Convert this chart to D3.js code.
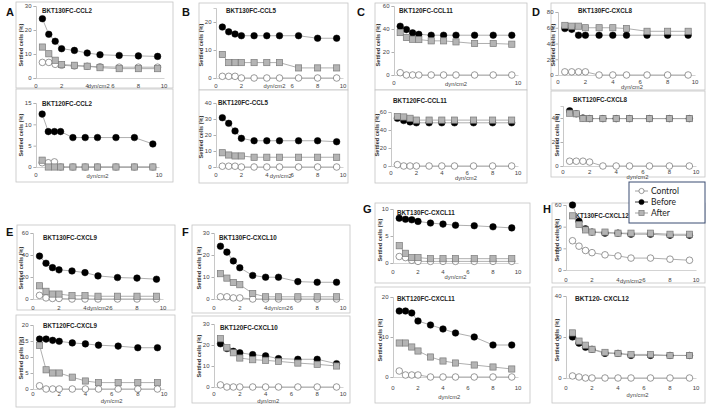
<!DOCTYPE html>
<html><head><meta charset="utf-8">
<script src="https://cdn.jsdelivr.net/npm/d3@7"></script>
<style>body{margin:0;background:#fff}svg{display:block}</style>
</head><body>
<svg id="c" width="708" height="408"></svg>
<script>
// ---------- DATA ----------
const shear = [0.5, 1, 1.5, 2, 3, 4, 5, 6.5, 8, 9.5];
const seriesNames = ["Control", "Before", "After"];
const xTicksFull = [0, 2, 4, 6, 8, 10];
const xTicksEnds = [0, 10];
const xTicksNo4 = [0, 2, 6, 8, 10];
const xTitle = "dyn/cm2";
const yTitle = "Settled cells (%)";
const panelLetters = ["A", "B", "C", "D", "E", "F", "G", "H"];

const titles = ["BKT130FC-CCL2", "BKT120FC-CCL2", "BKT130FC-CCL5", "BKT120FC-CCL5",
  "BKT120FC-CCL11", "BKT120FC-CCL11", "BKT130FC-CXCL8", "BKT120FC-CXCL8",
  "BKT130FC-CXCL9", "BKT120FC-CXCL9", "BKT130FC-CXCL10", "BKT120FC-CXCL10",
  "BKT130FC-CXCL11", "BKT120FC-CXCL11", "BKT130FC-CXCL12", "BKT120- CXCL12"];

// A
const ccl2_130_control = [6.5, 6.5, 5.7, 5.3, 5.0, 4.9, 4.7, 4.5, 4.5, 4.5];
const ccl2_130_before  = [24.7, 18.2, 15.3, 12.2, 11.5, 10.4, 9.7, 9.4, 9.2, 9.0];
const ccl2_130_after   = [12.9, 10.1, 7.4, 5.6, 5.3, 4.9, 4.3, 3.9, 3.9, 3.9];
const ccl2_120_control = [1.0, 1.0, 1.2, 0, 0, 0, 0, 0, 0, 0];
const ccl2_120_before  = [12.4, 8.3, 8.3, 8.3, 6.9, 6.9, 6.9, 6.9, 6.9, 5.4];
const ccl2_120_after   = [1.6, 0, 0, 0, 0, 0, 0, 0, 0, 0];
// B
const ccl5_130_control = [0.6, 0.6, 0.6, 0, 0, 0, 0, 0, 0, 0];
const ccl5_130_before  = [18.2, 16.5, 15.7, 15.1, 15.1, 15.1, 15.1, 15.1, 14.2, 14.2];
const ccl5_130_after   = [8.4, 5.5, 5.5, 5.5, 5.5, 5.5, 5.5, 3.6, 3.6, 3.6];
const ccl5_120_control = [0.5, 0.5, 0.5, 0, 0, 0, 0, 0, 0, 0];
const ccl5_120_before  = [30.8, 27.3, 22.5, 17.9, 16.4, 16.4, 16.4, 16.4, 16.4, 15.8];
const ccl5_120_after   = [8.9, 7.5, 6.9, 6.9, 6.1, 6.1, 6.1, 6.1, 6.1, 6.1];
// C
const ccl11_a_control = [2, 0, 0, 0, 0, 0, 0, 0, 0, 0];
const ccl11_a_before  = [42.4, 39.5, 36.6, 35.4, 34.6, 34.6, 34.6, 34.6, 34.6, 34.6];
const ccl11_a_after   = [36.9, 32.6, 31.1, 30.8, 29.7, 29.7, 28.8, 27.4, 27.4, 26.8];
const ccl11_b_control = [1.5, 0, 0, 0, 0, 0, 0, 0, 0, 0];
const ccl11_b_before  = [53, 50.5, 49, 48, 48, 48, 48, 48, 48, 48];
const ccl11_b_after   = [55, 54.5, 53, 51, 51, 51, 51, 51, 51, 51];
// D
const cxcl8_130_control = [4, 4, 4, 4, 0, 0, 0, 0, 0, 0];
const cxcl8_130_before  = [59, 58, 50.5, 50.5, 50.5, 50.5, 50.5, 50.5, 50.5, 50.5];
const cxcl8_130_after   = [63, 62, 62, 60, 60, 60, 59, 55.5, 55.5, 55.5];
const cxcl8_120_control = [4, 4, 4, 3.3, 0, 0, 0, 0, 0, 0];
const cxcl8_120_before  = [46, 43.5, 40, 39.5, 39.5, 39.5, 39.5, 39.5, 39.5, 39.5];
const cxcl8_120_after   = [44, 43.5, 39.5, 39.5, 39.5, 39.5, 39.5, 39.5, 39.5, 39.5];
// E
const cxcl9_130_control = [3.3, 1, 0.5, 0.5, 0, 0, 0, 0, 0, 0];
const cxcl9_130_before  = [39, 32.5, 28.5, 26.5, 25.5, 24, 21, 19.5, 19, 18];
const cxcl9_130_after   = [12, 7, 4.5, 4.5, 3, 3, 2.5, 2.5, 2.5, 2.5];
const cxcl9_120_control = [1, 0, 0, 0, 0, 0, 0, 0, 0, 0];
const cxcl9_120_before  = [15.6, 15.6, 15.2, 14.9, 14.4, 14.1, 13.7, 13.4, 12.9, 12.9];
const cxcl9_120_after   = [13.6, 6, 5, 5, 3.7, 2.5, 2, 2, 2, 2];
// F
const cxcl10_130_control = [1, 1, 0.5, 0.5, 0, 0, 0, 0, 0, 0];
const cxcl10_130_before  = [24, 21.3, 17.3, 14.2, 10.7, 9.9, 9.9, 7.9, 7.6, 7.6];
const cxcl10_130_after   = [11.5, 9.5, 7.5, 6.5, 2.5, 1, 1, 1, 1, 1];
const cxcl10_120_control = [1, 0, 0, 0, 0, 0, 0, 0, 0, 0];
const cxcl10_120_before  = [20.6, 18.3, 17, 16.3, 15.4, 14.8, 13.5, 13.2, 13.2, 11.1];
const cxcl10_120_after   = [23, 18.7, 16.3, 13.8, 13, 12.7, 12.2, 11.4, 10.8, 10];
// G
const cxcl11_130_control = [1.2, 1, 0.5, 0.3, 0.3, 0.3, 0.3, 0.3, 0.3, 0.3];
const cxcl11_130_before  = [8.3, 8.1, 8.0, 7.7, 7.4, 7.2, 7.0, 6.9, 6.7, 6.5];
const cxcl11_130_after   = [3.2, 1.8, 1, 1, 0.8, 0.8, 0.8, 0.8, 0.8, 0.8];
const cxcl11_120_control = [1.5, 0.5, 0.5, 0.5, 0, 0, 0, 0, 0, 0];
const cxcl11_120_before  = [16.5, 16.5, 16, 14, 13, 12, 11, 10, 8, 8];
const cxcl11_120_after   = [8.5, 8.5, 7.5, 6.5, 5, 4, 3.5, 3, 2.5, 2];
// H
const cxcl12_130_control = [27, 22, 18, 16, 14, 13, 11, 11, 10, 9];
const cxcl12_130_before  = [60, 45, 38, 35, 34, 34, 33, 33, 32, 32];
const cxcl12_130_after   = [50, 42, 37, 35, 35, 34, 34, 34, 33, 33];
const cxcl12_120_control = [1, 0.5, 0, 0, 0, 0, 0, 0, 0, 0];
const cxcl12_120_before  = [20, 17, 15, 14, 12, 12, 11, 11, 11, 11];
const cxcl12_120_after   = [22, 18, 16, 14, 12.5, 12, 11.5, 11.5, 11, 11];

const panelSeries = [
  [ccl2_130_control, ccl2_130_before, ccl2_130_after],
  [ccl2_120_control, ccl2_120_before, ccl2_120_after],
  [ccl5_130_control, ccl5_130_before, ccl5_130_after],
  [ccl5_120_control, ccl5_120_before, ccl5_120_after],
  [ccl11_a_control, ccl11_a_before, ccl11_a_after],
  [ccl11_b_control, ccl11_b_before, ccl11_b_after],
  [cxcl8_130_control, cxcl8_130_before, cxcl8_130_after],
  [cxcl8_120_control, cxcl8_120_before, cxcl8_120_after],
  [cxcl9_130_control, cxcl9_130_before, cxcl9_130_after],
  [cxcl9_120_control, cxcl9_120_before, cxcl9_120_after],
  [cxcl10_130_control, cxcl10_130_before, cxcl10_130_after],
  [cxcl10_120_control, cxcl10_120_before, cxcl10_120_after],
  [cxcl11_130_control, cxcl11_130_before, cxcl11_130_after],
  [cxcl11_120_control, cxcl11_120_before, cxcl11_120_after],
  [cxcl12_130_control, cxcl12_130_before, cxcl12_130_after],
  [cxcl12_120_control, cxcl12_120_before, cxcl12_120_after]
];
const yMaxes = [30, 15, 25, 40, 60, 60, 80, 50, 60, 20, 30, 30, 10, 20, 60, 40];
const yTickSets = [[0,10,20,30],[0,5,10,15],[0,10,20],[0,10,20,30,40],[0,20,40,60],[0,20,40,60],
  [0,20,40,60,80],[0,20,40],[0,20,40,60],[0,5,10,15,20],[0,10,20,30],[0,10,20,30],
  [0,5,10],[0,10,20],[0,20,40,60],[0,20,40]];
const xTickSets = [xTicksFull, xTicksEnds, xTicksNo4, xTicksFull, xTicksEnds, xTicksFull, xTicksFull, xTicksFull,
  xTicksFull, xTicksFull, xTicksFull, xTicksFull, xTicksFull, xTicksFull, xTicksFull, xTicksFull];

// ---------- LAYOUT (pixel geometry) ----------
const layout = [
  {frame:[16,2,173,88],  xr:[36,164],  yr:[78,6],    xl:86,  dyn:[4.9,86],  t:[42,10],  yt:[21,45]},
  {frame:[16,89,173,182],xr:[36,159],  yr:[167,103], xl:175, dyn:[5,176],   t:[42,103], yt:[21,135]},
  {frame:[199,3,348,90], xr:[216,343], yr:[78,8],    xl:86,  dyn:[4.6,86],  t:[226,10], yt:[201,45]},
  {frame:[199,90,348,183],xr:[216,343],yr:[167,103], xl:175, dyn:[5.1,176], t:[218,102],yt:[201,137]},
  {frame:[375,3,527,90], xr:[394,518], yr:[75,6],    xl:83,  dyn:[5,84],    t:[399,10], yt:[378,45]},
  {frame:[375,90,527,183],xr:[391,518],yr:[166,112], xl:173, dyn:[5.9,178], t:[393,100],yt:[377,135]},
  {frame:[551,3,705,90], xr:[558,695], yr:[75,12],   xl:82,  dyn:[5.4,87],  t:[578,10], yt:[553,45]},
  {frame:[551,91,705,177],xr:[563,696],yr:[166,106], xl:172, dyn:[5.6,177], t:[573,99], yt:[557,135]},
  {frame:[17,225,175,310],xr:[33,163], yr:[299,233], xl:308, dyn:[5,308],   t:[43,237], yt:[21,268]},
  {frame:[16,315,175,407],xr:[33,164], yr:[389,325], xl:394, dyn:[6,401],   t:[43,325], yt:[21,358]},
  {frame:[192,225,350,313],xr:[214,343],yr:[299,233],xl:308, dyn:[5,308],   t:[219,237],yt:[199,268]},
  {frame:[192,316,350,403],xr:[214,343],yr:[387,324],xl:394, dyn:[4.2,401], t:[220,327],yt:[199,356]},
  {frame:[375,203,530,283],xr:[393,518],yr:[263,209],xl:272, dyn:[5,277],   t:[397,212],yt:[380,240]},
  {frame:[375,287,530,403],xr:[393,518],yr:[377,297],xl:388, dyn:[4.5,397], t:[397,298],yt:[380,340]},
  {frame:[552,203,705,283],xr:[566,696],yr:[270,205],xl:280, dyn:[5,281],   t:[571,215],yt:[557,240]},
  {frame:[552,287,705,403],xr:[566,696],yr:[378,296],xl:388, dyn:[5.5,395], t:[575,298],yt:[557,340]}
];
const letterPos = [[6,12],[182,12],[357,12],[532,12],[6,232],[182,232],[363,209],[543,209]];

// ---------- DRAW ----------
const svg = d3.select("#c");
const FONT = "'Liberation Sans', Arial, sans-serif";
const lineColor = "#9a9a9a";
const markerR = 3.3;

function drawMarker(g, type, cx, cy, s) {
  if (type === 0) {
    g.append("circle").attr("cx", cx).attr("cy", cy).attr("r", s)
      .attr("fill", "#fff").attr("stroke", "#6e6e6e").attr("stroke-width", 0.7);
  } else if (type === 1) {
    g.append("circle").attr("cx", cx).attr("cy", cy).attr("r", s)
      .attr("fill", "#000").attr("stroke", "#000").attr("stroke-width", 0.5);
  } else {
    g.append("rect").attr("x", cx - s).attr("y", cy - s).attr("width", 2 * s).attr("height", 2 * s)
      .attr("fill", "#b4b4b4").attr("stroke", "#7a7a7a").attr("stroke-width", 0.7);
  }
}

titles.forEach((title, i) => {
  const L = layout[i];
  const g = svg.append("g");
  g.append("rect").attr("x", L.frame[0]).attr("y", L.frame[1])
    .attr("width", L.frame[2] - L.frame[0]).attr("height", L.frame[3] - L.frame[1])
    .attr("fill", "#fff").attr("stroke", "#c4c4c4").attr("stroke-width", 0.8);

  const x = d3.scaleLinear().domain([0, 10]).range(L.xr);
  const y = d3.scaleLinear().domain([0, yMaxes[i]]).range(L.yr);

  const ya = g.append("g").attr("transform", `translate(${L.xr[0]},0)`)
    .call(d3.axisLeft(y).tickValues(yTickSets[i]).tickSize(2.5).tickPadding(2).tickFormat(d3.format("d")));
  ya.select(".domain").attr("stroke", "#b0b0b0").attr("stroke-width", 0.7);
  ya.selectAll(".tick line").attr("stroke", "#b0b0b0");
  ya.selectAll(".tick text").attr("font-size", 6).attr("font-family", FONT).attr("fill", "#444");

  const xa = g.append("g").attr("transform", `translate(0,${L.yr[0]})`)
    .call(d3.axisBottom(x).tickValues([]).tickSize(0).tickSizeOuter(0));
  xa.select(".domain").attr("stroke", "#c0c0c0").attr("stroke-width", 0.7);

  g.selectAll(".xl").data(xTickSets[i]).enter().append("text")
    .attr("x", d => x(d)).attr("y", L.xl).attr("dy", "0.35em")
    .attr("text-anchor", "middle").attr("font-size", 6).attr("font-family", FONT).attr("fill", "#444")
    .text(d => d);
  g.append("text").attr("x", x(L.dyn[0])).attr("y", L.dyn[1]).attr("dy", "0.35em")
    .attr("text-anchor", "middle").attr("font-size", 5.8).attr("font-family", FONT).attr("fill", "#444")
    .text(xTitle);

  g.append("text").attr("transform", `translate(${L.yt[0]},${L.yt[1]}) rotate(-90)`)
    .attr("text-anchor", "middle").attr("dy", "0.35em")
    .attr("font-size", 5.6).attr("font-family", FONT).attr("font-weight", "bold").attr("fill", "#333")
    .text(yTitle);

  g.append("text").attr("x", L.t[0]).attr("y", L.t[1]).attr("dy", "0.35em")
    .attr("font-size", 8).attr("font-weight", "bold").attr("font-family", FONT)
    .attr("textLength", title.length * 3.85).attr("lengthAdjust", "spacingAndGlyphs")
    .attr("fill", "#222").text(title);

  const line = d3.line().x((d, k) => x(shear[k])).y(d => y(d));
  panelSeries[i].forEach((vals) => {
    g.append("path").datum(vals).attr("d", line).attr("fill", "none")
      .attr("stroke", lineColor).attr("stroke-width", 0.8);
  });
  panelSeries[i].forEach((vals, s) => {
    vals.forEach((v, k) => drawMarker(g, s, x(shear[k]), y(v), s === 2 ? 3.1 : markerR));
  });
});

panelLetters.forEach((l, i) => {
  svg.append("text").attr("x", letterPos[i][0]).attr("y", letterPos[i][1]).attr("dy", "0.35em")
    .attr("font-size", 11).attr("font-weight", "bold").attr("font-family", FONT).attr("fill", "#111").text(l);
});

const lg = svg.append("g");
lg.append("rect").attr("x", 629).attr("y", 182).attr("width", 76).attr("height", 41)
  .attr("fill", "#fff").attr("stroke", "#3b4d72").attr("stroke-width", 1);
seriesNames.forEach((name, s) => {
  const yy = 191 + s * 11;
  lg.append("line").attr("x1", 635).attr("x2", 648).attr("y1", yy).attr("y2", yy)
    .attr("stroke", s === 1 ? "#000" : "#888").attr("stroke-width", 0.8);
  drawMarker(lg, s, 641.5, yy, 2.6);
  lg.append("text").attr("x", 651).attr("y", yy).attr("dy", "0.35em")
    .attr("font-size", 8.5).attr("font-family", "Lato, 'Open Sans', sans-serif").attr("fill", "#222").text(name);
});
</script>
</body></html>
